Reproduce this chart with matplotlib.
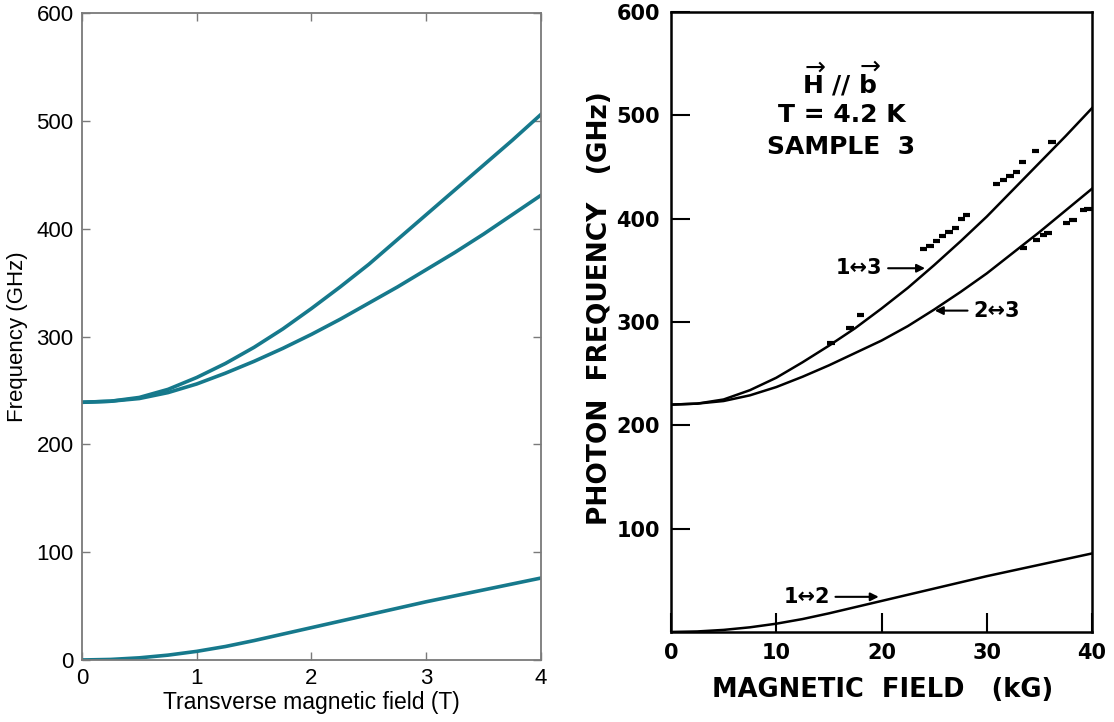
import numpy as np
import matplotlib
matplotlib.use("Agg")
import matplotlib.pyplot as plt

# ---------------------------------------------------------------------
# Datos
# Panel izquierdo: campo transversal (T)
campo_T = [0, 0.25, 0.5, 0.75, 1, 1.25, 1.5, 1.75, 2, 2.25, 2.5, 2.75, 3, 3.25, 3.5, 3.75, 4]
f13_izq = [239, 240, 243.5, 251, 262, 275, 290, 307, 326, 346, 367, 390, 413, 436, 459, 482, 506]
f23_izq = [239, 240, 242.5, 248, 256, 266, 277, 289, 302, 316, 331, 346, 362, 378, 395, 413, 431]
f12_izq = [0, 0.5, 2, 4.5, 8, 12.5, 18, 24, 30, 36, 42, 48, 54, 59.5, 65, 70.5, 76]

# Panel derecho: campo magnético (kG)
campo_kG = [0, 2.5, 5, 7.5, 10, 12.5, 15, 17.5, 20, 22.5, 25, 27.5, 30, 32.5, 35, 37.5, 40]
f13_der = [220, 221, 225, 234, 246, 261, 277, 294, 313, 333, 355, 378, 402, 428, 454, 480, 507]
f23_der = [220, 221, 223.5, 229, 237, 247, 258, 270, 282, 296, 312, 329, 347, 367, 387, 408, 429]
f12_der = [0, 0.5, 2, 4.5, 8, 12.5, 18, 24, 30, 36, 42, 48, 54, 59.5, 65, 70.5, 76]

# Puntos experimentales (kG, GHz)
exp_x = [15.2, 17.0, 18.0, 24.0, 24.6, 25.2, 25.8, 26.4, 27.0, 27.6, 28.1,
         30.9, 31.6, 32.2, 32.8, 33.4, 34.6, 36.2,
         33.5, 34.7, 35.4, 35.8, 37.6, 38.2, 39.2, 39.6]
exp_y = [280, 294, 307, 371, 374, 378, 383, 387, 391, 400, 404,
         434, 437, 441, 445, 455, 465, 474,
         372, 379, 384, 386, 396, 399, 408, 409]

color_linea = "#16798c"
gris = "#7a7a7a"

# ---------------------------------------------------------------------
fig = plt.figure(figsize=(11.14, 7.22), dpi=100)

# Panel izquierdo (estilo MATLAB)
ax1 = fig.add_axes([0.0736, 0.0859, 0.412, 0.896])
for f in (f13_izq, f23_izq, f12_izq):
    ax1.plot(campo_T, f, color=color_linea, linewidth=2.6)
ax1.set_xlim(0, 4)
ax1.set_ylim(0, 600)
ax1.set_xticks([0, 1, 2, 3, 4])
ax1.set_yticks([0, 100, 200, 300, 400, 500, 600])
ax1.tick_params(direction="in", top=True, right=True, length=6, width=1,
                color=gris, labelsize=16, pad=6)
for lab in ax1.get_xticklabels() + ax1.get_yticklabels():
    lab.set_family("Liberation Sans")
for s in ax1.spines.values():
    s.set_color(gris)
    s.set_linewidth(1.3)
ax1.set_xlabel("Transverse magnetic field (T)", fontsize=16.5,
               family="Liberation Sans", labelpad=1)
ax1.set_ylabel("Frequency (GHz)", fontsize=16, family="Liberation Sans", labelpad=6)

# Panel derecho (figura escaneada)
ax2 = fig.add_axes([0.6023, 0.1247, 0.378, 0.8587])
for f in (f13_der, f23_der, f12_der):
    ax2.plot(campo_kG, f, color="black", linewidth=1.8)
ax2.errorbar(exp_x, exp_y, xerr=0.35, fmt="none", ecolor="black", elinewidth=3)
ax2.set_xlim(0, 40)
ax2.set_ylim(0, 600)
ax2.set_xticks([0, 10, 20, 30, 40])
ax2.set_yticks([100, 200, 300, 400, 500, 600])
ax2.tick_params(direction="in", length=14, width=1.5, color="black",
                labelsize=15, pad=8)
for lab in ax2.get_xticklabels() + ax2.get_yticklabels():
    lab.set_fontweight("bold")
for s in ax2.spines.values():
    s.set_linewidth(1.8)

fig.text(0.5385, 0.573, "PHOTON  FREQUENCY   (GHz)", rotation=90,
         ha="center", va="center", fontsize=19, fontweight="bold")
fig.text(0.792, 0.044, "MAGNETIC  FIELD   (kG)", ha="center", va="center",
         fontsize=18.5, fontweight="bold")

ax2.text(16.2, 535, r"$\overrightarrow{\mathbf{H}}$ // $\overrightarrow{\mathbf{b}}$",
         ha="center", va="center", fontsize=18, fontweight="bold")
ax2.text(16.2, 500, "T = 4.2 K", ha="center", va="center", fontsize=18,
         fontweight="bold")
ax2.text(16.2, 469, "SAMPLE  3", ha="center", va="center", fontsize=18,
         fontweight="bold")

flecha = dict(arrowstyle="-|>", color="black", lw=1.5, mutation_scale=12)
ax2.annotate("1↔3", xy=(24.4, 352), xytext=(20.1, 352), ha="right", va="center",
             fontsize=15, fontweight="bold", arrowprops=flecha)
ax2.annotate("2↔3", xy=(24.8, 311), xytext=(28.7, 311), ha="left", va="center",
             fontsize=15, fontweight="bold", arrowprops=flecha)
ax2.annotate("1↔2", xy=(20.0, 34), xytext=(15.1, 34), ha="right", va="center",
             fontsize=15, fontweight="bold", arrowprops=flecha)

fig.savefig("out.png", dpi=100)
